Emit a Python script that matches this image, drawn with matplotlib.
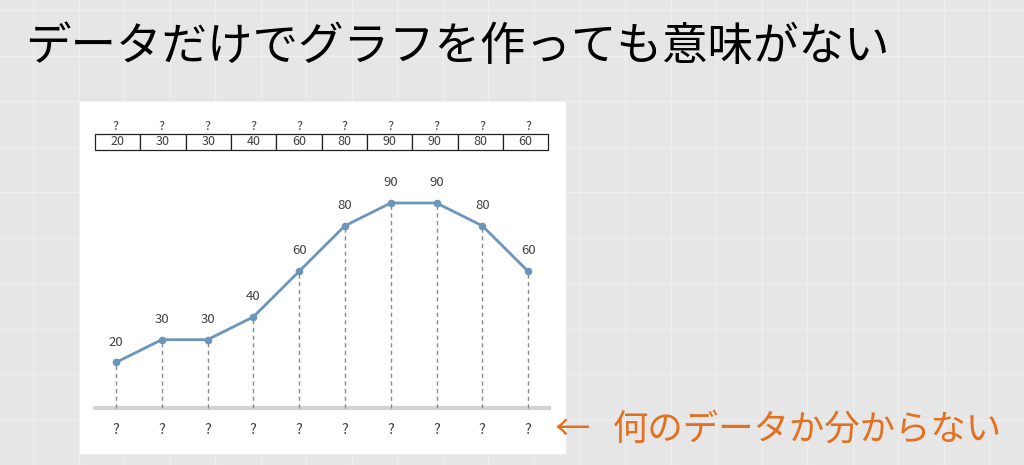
import matplotlib.pyplot as plt
from matplotlib.patches import Rectangle

plt.rcParams['font.family'] = ['Noto Sans CJK JP', 'DejaVu Sans']

# Data values shown in the chart
values = [20, 30, 30, 40, 60, 80, 90, 90, 80, 60]
headers = ['?'] * len(values)
xlabels = ['?'] * len(values)
title_text = 'データだけでグラフを作っても意味がない'
note_arrow = '←'
note_text = '何のデータか分からない'

# Colours
bg_color = '#e6e6e6'
line_color = '#6b95bb'
text_color = '#404040'
note_color = '#e2701f'

# a.) Figure with a gray slide background and faint white grid
fig = plt.figure(figsize=(10.24, 4.65), dpi=100)
ax_bg = fig.add_axes([0, 0, 1, 1])
ax_bg.set_xlim(0, 1024)
ax_bg.set_ylim(465, 0)
ax_bg.axis('off')
ax_bg.add_patch(Rectangle((0, 0), 1024, 465, color=bg_color, zorder=0))
for gx in range(33, 1024, 45):
    ax_bg.axvline(gx + (gx - 33) * 0.012, color='#eeeeee', lw=1, zorder=1)
for gy in range(10, 465, 45):
    ax_bg.axhline(gy + (gy - 10) * 0.012, color='#eeeeee', lw=1, zorder=1)
# b.) White panel behind the chart
ax_bg.add_patch(Rectangle((80, 102), 485, 351, color='white', zorder=2))

# c.) Title and orange note
ax_bg.text(25, 47, title_text, fontsize=32.8, color='black', ha='left', va='center', zorder=3)
ax_bg.text(555, 430, note_arrow, fontsize=25.5, color=note_color, ha='left', va='center', zorder=3)
ax_bg.text(613, 430, note_text, fontsize=25.5, color=note_color, ha='left', va='center', zorder=3)

# d.) Chart axes placed over the white panel
ax = fig.add_axes([93 / 1024, (465 - 453.6) / 465, 458 / 1024, 353.1 / 465])
ax.set_xlim(-0.5, len(values) - 0.5)
ax.set_ylim(-20, 135)
ax.axis('off')
x = list(range(len(values)))

# e.) Gray baseline and dashed drop lines
ax.axhline(0, color='#d3d3d3', lw=3, zorder=1)
ax.vlines(x, 0, values, colors='#8a8a8a', linestyles=(0, (3, 2.5)), lw=1, zorder=2)

# f.) Line with point markers and value labels
ax.plot(x, values, color=line_color, lw=2, marker='o', markersize=4.5, zorder=3)
for xi, v in zip(x, values):
    ax.annotate(str(v), (xi, v), xytext=(0, 10), textcoords='offset points',
                ha='center', va='bottom', fontsize=9.5, color=text_color)

# g.) Unknown category labels under the baseline
for xi, lab in zip(x, xlabels):
    ax.text(xi, -9.7, lab, ha='center', va='center', fontsize=10.5, color=text_color)

# h.) Small table of the values with unknown headers
tbl = ax.table(cellText=[[str(v) for v in values]], cellLoc='center',
               bbox=[0.004, 0.86, 0.99, 0.045])
tbl.auto_set_font_size(False)
tbl.set_fontsize(9)
for cell in tbl.get_celld().values():
    cell.set_edgecolor('#222222')
    cell.set_linewidth(0.9)
    cell.get_text().set_color(text_color)
for xi, h in zip(x, headers):
    ax.text(xi, 123.8, h, ha='center', va='center', fontsize=9, color=text_color)

fig.savefig('out.png', dpi=100)
